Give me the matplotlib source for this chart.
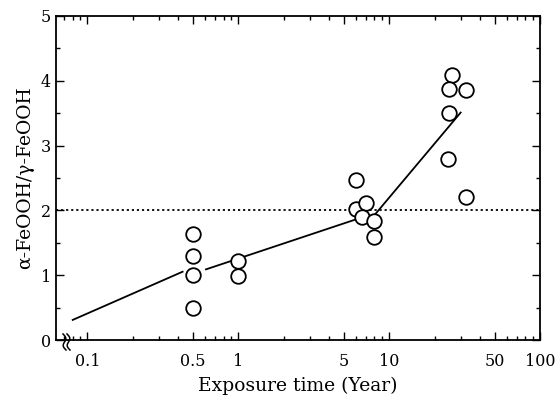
import numpy as np
import matplotlib
matplotlib.use("Agg")
import matplotlib.pyplot as plt
from matplotlib.ticker import FixedLocator, NullFormatter

# ---- data ----
x_pts = [0.5, 0.5, 0.5, 0.5, 1.0, 1.0,
         6.0, 6.0, 7.05, 6.65, 7.95, 7.95,
         26.2, 24.8, 32.2, 24.8, 24.5, 32.2]
y_pts = [1.63, 1.29, 1.0, 0.49, 1.22, 0.99,
         2.47, 2.02, 2.11, 1.9, 1.83, 1.59,
         4.09, 3.88, 3.86, 3.5, 2.8, 2.2]

seg1_x = [0.080, 0.428]
seg1_y = [0.31, 1.054]
seg2_x = [0.611, 6.33]
seg2_y = [1.09, 1.878]
seg3_x = [7.5, 29.8]
seg3_y = [1.85, 3.51]

ref_level = 2.0
xticks = [0.1, 0.5, 1, 5, 10, 50, 100]
xtick_labels = ["0.1", "0.5", "1", "5", "10", "50", "100"]
yticks = [0, 1, 2, 3, 4, 5]

plt.rcParams['font.family'] = ['DejaVu Serif']
fig = plt.figure(figsize=(5.59, 4.04), dpi=100)
ax = fig.add_axes([0.1002, 0.1584, 0.8658, 0.802])

ax.axhline(ref_level, color='black', lw=1.3, linestyle=(0, (1.2, 1.6)), zorder=1)
for sx, sy in [(seg1_x, seg1_y), (seg2_x, seg2_y), (seg3_x, seg3_y)]:
    ax.plot(sx, sy, color='black', lw=1.3, zorder=2)
ax.plot(x_pts, y_pts, 'o', ms=10.5, mfc='white', mec='black', mew=1.3, zorder=3,
        linestyle='none')

ax.set_xscale('log')
ax.set_xlim(0.062, 100)
ax.set_ylim(0, 5)

ax.xaxis.set_major_locator(FixedLocator(xticks))
ax.set_xticklabels(xtick_labels)
minor = [v * 10**e for e in (-2, -1, 0, 1) for v in range(2, 10)]
minor = [m for m in minor if m not in xticks]
ax.xaxis.set_minor_locator(FixedLocator(minor))
ax.xaxis.set_minor_formatter(NullFormatter())
ax.set_yticks(yticks)
ax.set_yticks(np.arange(0.5, 5, 1.0), minor=True)

ax.tick_params(which='both', direction='in', top=True, right=True, labelsize=11.5,
               width=1.0)
ax.tick_params(which='major', length=6)
ax.tick_params(which='minor', length=3)
ax.tick_params(axis='x', which='major', pad=9)
for sp in ax.spines.values():
    sp.set_linewidth(1.3)

ax.set_xlabel("Exposure time (Year)", fontsize=13.5, labelpad=5)
ax.set_ylabel("α-FeOOH/γ-FeOOH", fontsize=13.5, labelpad=5)

# axis break mark (two wavy strokes)
W, H = 484.0, 324.0
t = np.linspace(0, 1, 40)
for dx in (0.0, 4.0):
    xp = 7.0 + dx + 2.0 * np.sin(t * 2 * np.pi) + 3.0 * t
    yp = 6.0 - 16.0 * t
    ax.plot(xp / W, yp / H, color='black', lw=1.1, transform=ax.transAxes,
            clip_on=False, zorder=5)

fig.savefig("out.png", dpi=100)
